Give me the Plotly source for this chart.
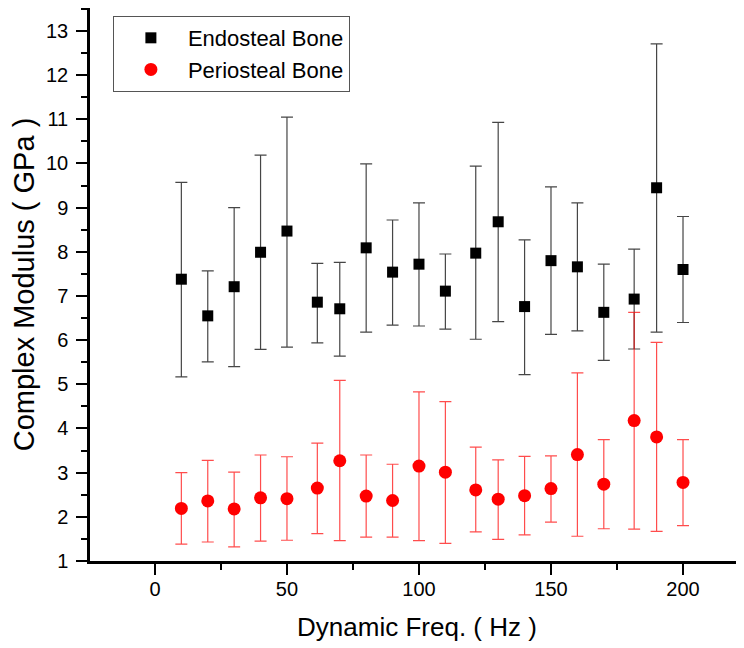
import plotly.graph_objects as go

freq = [10, 20, 30, 40, 50, 61.5, 70, 80, 90, 100, 110, 121.5, 130, 140, 150, 160, 170, 181.5, 190, 200]

endo_mean = [7.38, 6.55, 7.21, 7.99, 8.47, 6.86, 6.71, 8.09, 7.54, 7.72, 7.11, 7.97, 8.68, 6.76, 7.80, 7.66, 6.63, 6.93, 9.45, 7.60]
endo_upper = [9.57, 7.57, 9.00, 10.19, 11.05, 7.74, 7.76, 9.99, 8.72, 9.11, 7.95, 9.94, 10.93, 8.27, 9.47, 9.11, 7.72, 8.06, 12.71, 8.80]
endo_lower = [5.17, 5.51, 5.40, 5.79, 5.84, 5.94, 5.64, 6.18, 6.34, 6.32, 6.25, 6.02, 6.42, 5.22, 6.13, 6.21, 5.54, 5.80, 6.18, 6.40]

perio_mean = [2.19, 2.36, 2.18, 2.43, 2.41, 2.65, 3.27, 2.47, 2.37, 3.15, 3.01, 2.61, 2.40, 2.48, 2.64, 3.41, 2.74, 4.18, 3.81, 2.78]
perio_upper = [3.00, 3.28, 3.01, 3.40, 3.36, 3.67, 5.09, 3.40, 3.19, 4.83, 4.61, 3.58, 3.29, 3.37, 3.38, 5.26, 3.75, 6.63, 5.95, 3.75]
perio_lower = [1.38, 1.43, 1.32, 1.45, 1.47, 1.62, 1.46, 1.54, 1.54, 1.46, 1.40, 1.66, 1.49, 1.59, 1.88, 1.56, 1.73, 1.72, 1.67, 1.80]

x_tickvals = [0, 50, 100, 150, 200]
y_tickvals = list(range(1, 14))

FONT = "Liberation Sans, Arial, sans-serif"

def err(mean, up, lo):
    plus = [u - m for u, m in zip(up, mean)]
    minus = [m - l for m, l in zip(mean, lo)]
    return plus, minus

ep, em = err(endo_mean, endo_upper, endo_lower)
pp, pm = err(perio_mean, perio_upper, perio_lower)

fig = go.Figure()
fig.add_trace(go.Scatter(
    x=freq, y=endo_mean, mode="markers", name="Endosteal Bone",
    marker=dict(symbol="square", size=11, color="black"),
    error_y=dict(type="data", symmetric=False, array=ep, arrayminus=em,
                 color="rgb(70,70,70)", thickness=1.2, width=6),
))
fig.add_trace(go.Scatter(
    x=freq, y=perio_mean, mode="markers", name="Periosteal Bone",
    marker=dict(symbol="circle", size=13, color="red"),
    error_y=dict(type="data", symmetric=False, array=pp, arrayminus=pm,
                 color="rgba(255,0,0,0.7)", thickness=1.2, width=6),
))

axis_common = dict(
    showline=True, linecolor="black", linewidth=2.5,
    ticks="outside", ticklen=11, tickwidth=2, tickcolor="black",
    showgrid=False, zeroline=False, automargin=False,
    tickfont=dict(family=FONT, size=20, color="black"),
)

# page body has an 8px default margin, so the figure is offset by 8px
fig.update_layout(
    width=744, height=648,
    margin=dict(l=82, r=8, t=0, b=95),
    paper_bgcolor="white", plot_bgcolor="white",
    font=dict(family=FONT, color="black"),
    showlegend=True,
    legend=dict(
        x=0.035, y=0.9855, xanchor="left", yanchor="top",
        bordercolor="#555", borderwidth=1, bgcolor="white",
        font=dict(family=FONT, size=22, color="black"),
        itemwidth=64,
    ),
    xaxis=dict(
        **axis_common,
        range=[-24.6, 223.1],
        tickvals=x_tickvals,
        ticklabelstandoff=-3,
        minor=dict(dtick=25, tick0=0, ticks="outside", ticklen=6, tickwidth=2, tickcolor="black"),
        title=dict(text="Dynamic Freq. ( Hz )", font=dict(family=FONT, size=26), standoff=20),
    ),
    yaxis=dict(
        **axis_common,
        range=[1, 13.52],
        tickvals=y_tickvals,
        ticklabelstandoff=4,
        minor=dict(dtick=0.5, tick0=0, ticks="outside", ticklen=6, tickwidth=2, tickcolor="black"),
        title=dict(text="Complex Modulus ( GPa )", font=dict(family=FONT, size=29), standoff=8),
    ),
)

fig.write_html("out.html")
